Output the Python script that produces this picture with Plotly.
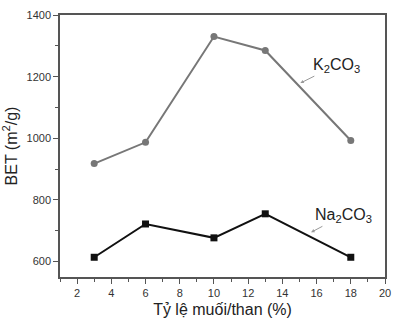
import plotly.graph_objects as go

ratio = [3, 6, 10, 13, 18]
bet_k2co3 = [918, 987, 1330, 1285, 993]
bet_na2co3 = [614, 722, 677, 755, 614]

x_ticks = [2, 4, 6, 8, 10, 12, 14, 16, 18, 20]
y_ticks = [600, 800, 1000, 1200, 1400]

font = "Liberation Sans, Arial, sans-serif"

fig = go.Figure()
fig.add_trace(go.Scatter(x=ratio, y=bet_k2co3, mode="lines+markers",
                         line=dict(color="#777777", width=2),
                         marker=dict(symbol="circle", size=7, color="#777777"),
                         showlegend=False))
fig.add_trace(go.Scatter(x=ratio, y=bet_na2co3, mode="lines+markers",
                         line=dict(color="#111111", width=2),
                         marker=dict(symbol="square", size=7, color="#111111"),
                         showlegend=False))

fig.add_annotation(x=15.05, y=1179, xref="x", yref="y", ax=36, ay=-18,
                   text="K<sub>2</sub>CO<sub>3</sub>", showarrow=True,
                   arrowhead=2, arrowsize=0.7, arrowwidth=1, arrowcolor="#999999",
                   font=dict(family=font, size=16, color="#222"))
fig.add_annotation(x=15.68, y=695, xref="x", yref="y", ax=32, ay=-17,
                   text="Na<sub>2</sub>CO<sub>3</sub>", showarrow=True,
                   arrowhead=2, arrowsize=0.7, arrowwidth=1, arrowcolor="#999999",
                   font=dict(family=font, size=16, color="#222"))

axis_common = dict(showline=True, linecolor="#555", linewidth=1.5, mirror=True,
                   ticks="outside", ticklen=5, tickwidth=1, tickcolor="#555",
                   showgrid=False, zeroline=False,
                   tickfont=dict(family=font, size=11, color="#333"))

fig.update_xaxes(range=[1, 20], tickvals=x_ticks,
                 minor=dict(dtick=1, ticks="outside", ticklen=3, tickcolor="#555"),
                 title=dict(text="Tỷ lệ muối/than (%)", font=dict(family=font, size=16, color="#222"),
                            standoff=6),
                 **axis_common)
fig.update_yaxes(range=[550, 1400], tickvals=y_ticks,
                 minor=dict(dtick=100, ticks="outside", ticklen=3, tickcolor="#555"),
                 title=dict(text="BET (m<sup>2</sup>/g)", font=dict(family=font, size=16, color="#222"),
                            standoff=6),
                 **axis_common)

fig.update_layout(width=400, height=325, margin=dict(l=57, r=9, t=10, b=45),
                  plot_bgcolor="white", paper_bgcolor="white")

fig.write_html("out.html")
